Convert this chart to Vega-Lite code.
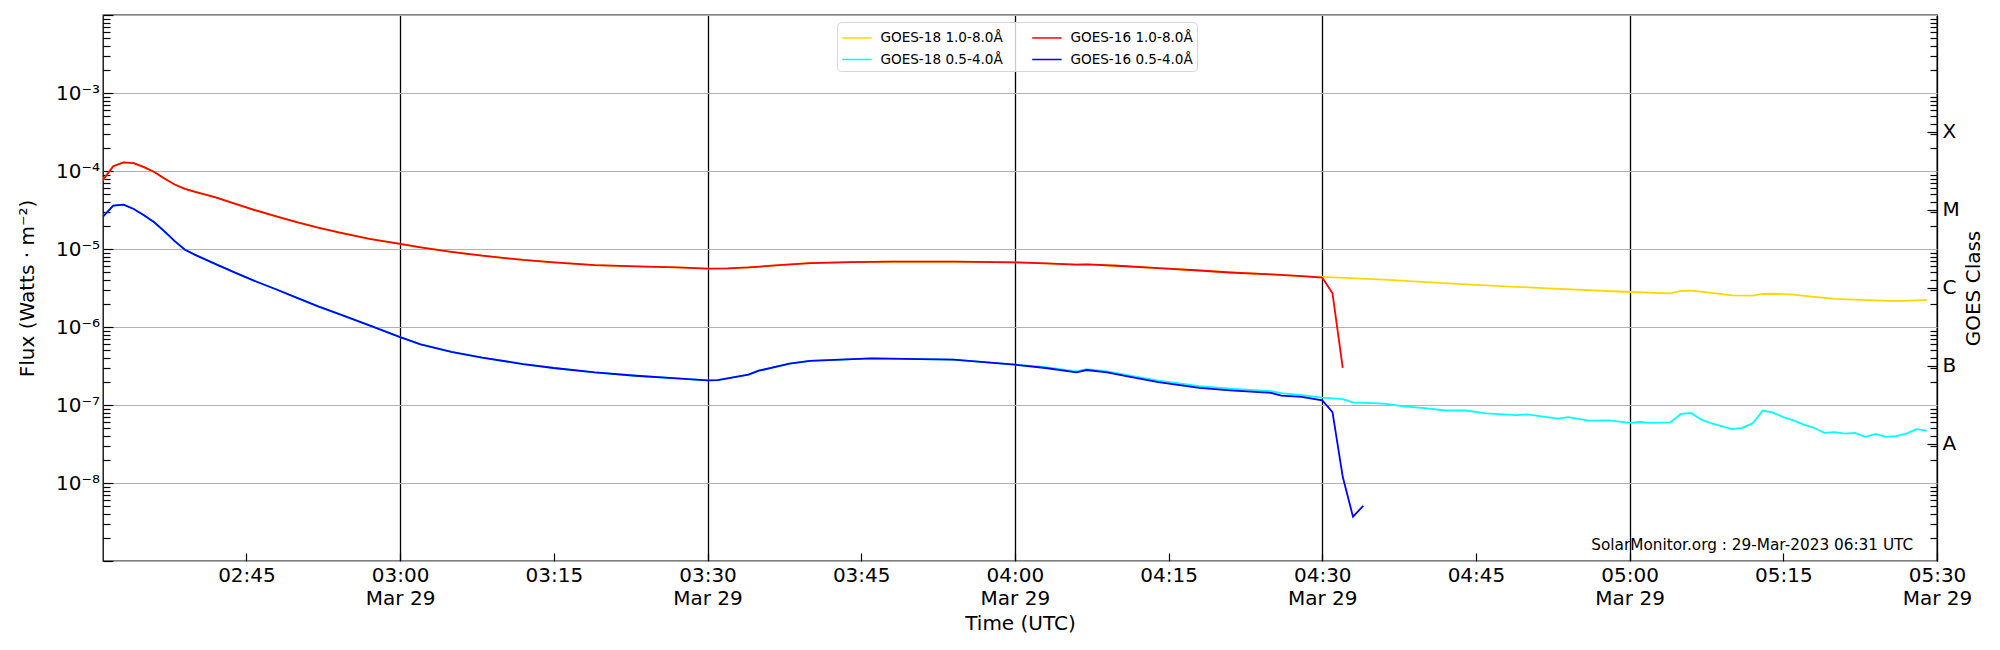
{
  "$schema": "https://vega.github.io/schema/vega-lite/v6.json",
  "width": 1834,
  "height": 546,
  "autosize": {"type": "none"},
  "padding": {"left": 103, "top": 15, "right": 63, "bottom": 89},
  "background": "white",
  "config": {
    "font": "DejaVu Sans",
    "view": {"stroke": "black", "strokeWidth": 1.3},
    "axis": {
      "labelFont": "DejaVu Sans",
      "titleFont": "DejaVu Sans",
      "labelFontSize": 20,
      "titleFontSize": 20,
      "titleFontWeight": "normal",
      "labelColor": "black",
      "titleColor": "black",
      "tickColor": "black",
      "tickWidth": 1.2,
      "domain": false,
      "labelOverlap": false,
      "labelFlush": false
    },
    "legend": {
      "orient": "none",
      "legendX": 734,
      "legendY": 7,
      "columns": 2,
      "symbolType": "M-1.4,0L1.4,0",
      "symbolSize": 441,
      "symbolStrokeWidth": 1.5,
      "symbolOffset": 4.4,
      "labelFont": "DejaVu Sans",
      "labelFontSize": 13.6,
      "labelColor": "black",
      "labelOffset": 12,
      "rowPadding": 3,
      "columnPadding": 26,
      "padding": 4,
      "strokeColor": "#d6d6d6",
      "fillColor": "rgba(255,255,255,0.8)",
      "cornerRadius": 4
    }
  },
  "datasets": {
    "flux": [
      {"t": "2023-03-29T02:31Z", "s": "GOES-18 1.0-8.0Å", "f": 7.7e-5},
      {"t": "2023-03-29T02:32Z", "s": "GOES-18 1.0-8.0Å", "f": 1.15e-4},
      {"t": "2023-03-29T02:33Z", "s": "GOES-18 1.0-8.0Å", "f": 1.29e-4},
      {"t": "2023-03-29T02:34Z", "s": "GOES-18 1.0-8.0Å", "f": 1.26e-4},
      {"t": "2023-03-29T02:35Z", "s": "GOES-18 1.0-8.0Å", "f": 1.12e-4},
      {"t": "2023-03-29T02:36Z", "s": "GOES-18 1.0-8.0Å", "f": 9.7e-5},
      {"t": "2023-03-29T02:37Z", "s": "GOES-18 1.0-8.0Å", "f": 8.0e-5},
      {"t": "2023-03-29T02:38Z", "s": "GOES-18 1.0-8.0Å", "f": 6.7e-5},
      {"t": "2023-03-29T02:39Z", "s": "GOES-18 1.0-8.0Å", "f": 5.9e-5},
      {"t": "2023-03-29T02:40Z", "s": "GOES-18 1.0-8.0Å", "f": 5.4e-5},
      {"t": "2023-03-29T02:42Z", "s": "GOES-18 1.0-8.0Å", "f": 4.6e-5},
      {"t": "2023-03-29T02:44Z", "s": "GOES-18 1.0-8.0Å", "f": 3.75e-5},
      {"t": "2023-03-29T02:46Z", "s": "GOES-18 1.0-8.0Å", "f": 3.1e-5},
      {"t": "2023-03-29T02:48Z", "s": "GOES-18 1.0-8.0Å", "f": 2.6e-5},
      {"t": "2023-03-29T02:50Z", "s": "GOES-18 1.0-8.0Å", "f": 2.2e-5},
      {"t": "2023-03-29T02:52Z", "s": "GOES-18 1.0-8.0Å", "f": 1.88e-5},
      {"t": "2023-03-29T02:54Z", "s": "GOES-18 1.0-8.0Å", "f": 1.63e-5},
      {"t": "2023-03-29T02:57Z", "s": "GOES-18 1.0-8.0Å", "f": 1.35e-5},
      {"t": "2023-03-29T03:00Z", "s": "GOES-18 1.0-8.0Å", "f": 1.16e-5},
      {"t": "2023-03-29T03:02Z", "s": "GOES-18 1.0-8.0Å", "f": 1.05e-5},
      {"t": "2023-03-29T03:05Z", "s": "GOES-18 1.0-8.0Å", "f": 9.2e-6},
      {"t": "2023-03-29T03:08Z", "s": "GOES-18 1.0-8.0Å", "f": 8.2e-6},
      {"t": "2023-03-29T03:12Z", "s": "GOES-18 1.0-8.0Å", "f": 7.25e-6},
      {"t": "2023-03-29T03:15Z", "s": "GOES-18 1.0-8.0Å", "f": 6.75e-6},
      {"t": "2023-03-29T03:19Z", "s": "GOES-18 1.0-8.0Å", "f": 6.2e-6},
      {"t": "2023-03-29T03:23Z", "s": "GOES-18 1.0-8.0Å", "f": 6.0e-6},
      {"t": "2023-03-29T03:27Z", "s": "GOES-18 1.0-8.0Å", "f": 5.8e-6},
      {"t": "2023-03-29T03:30Z", "s": "GOES-18 1.0-8.0Å", "f": 5.6e-6},
      {"t": "2023-03-29T03:32Z", "s": "GOES-18 1.0-8.0Å", "f": 5.65e-6},
      {"t": "2023-03-29T03:34Z", "s": "GOES-18 1.0-8.0Å", "f": 5.8e-6},
      {"t": "2023-03-29T03:37Z", "s": "GOES-18 1.0-8.0Å", "f": 6.2e-6},
      {"t": "2023-03-29T03:40Z", "s": "GOES-18 1.0-8.0Å", "f": 6.6e-6},
      {"t": "2023-03-29T03:44Z", "s": "GOES-18 1.0-8.0Å", "f": 6.8e-6},
      {"t": "2023-03-29T03:48Z", "s": "GOES-18 1.0-8.0Å", "f": 6.9e-6},
      {"t": "2023-03-29T03:54Z", "s": "GOES-18 1.0-8.0Å", "f": 6.9e-6},
      {"t": "2023-03-29T04:00Z", "s": "GOES-18 1.0-8.0Å", "f": 6.75e-6},
      {"t": "2023-03-29T04:03Z", "s": "GOES-18 1.0-8.0Å", "f": 6.55e-6},
      {"t": "2023-03-29T04:06Z", "s": "GOES-18 1.0-8.0Å", "f": 6.3e-6},
      {"t": "2023-03-29T04:07Z", "s": "GOES-18 1.0-8.0Å", "f": 6.36e-6},
      {"t": "2023-03-29T04:10Z", "s": "GOES-18 1.0-8.0Å", "f": 6.1e-6},
      {"t": "2023-03-29T04:14Z", "s": "GOES-18 1.0-8.0Å", "f": 5.7e-6},
      {"t": "2023-03-29T04:18Z", "s": "GOES-18 1.0-8.0Å", "f": 5.3e-6},
      {"t": "2023-03-29T04:21Z", "s": "GOES-18 1.0-8.0Å", "f": 5.0e-6},
      {"t": "2023-03-29T04:25Z", "s": "GOES-18 1.0-8.0Å", "f": 4.73e-6},
      {"t": "2023-03-29T04:28Z", "s": "GOES-18 1.0-8.0Å", "f": 4.5e-6},
      {"t": "2023-03-29T04:30Z", "s": "GOES-18 1.0-8.0Å", "f": 4.38e-6},
      {"t": "2023-03-29T04:36Z", "s": "GOES-18 1.0-8.0Å", "f": 4.05e-6},
      {"t": "2023-03-29T04:44Z", "s": "GOES-18 1.0-8.0Å", "f": 3.52e-6},
      {"t": "2023-03-29T04:52Z", "s": "GOES-18 1.0-8.0Å", "f": 3.13e-6},
      {"t": "2023-03-29T05:00Z", "s": "GOES-18 1.0-8.0Å", "f": 2.81e-6},
      {"t": "2023-03-29T05:04Z", "s": "GOES-18 1.0-8.0Å", "f": 2.7e-6},
      {"t": "2023-03-29T05:05Z", "s": "GOES-18 1.0-8.0Å", "f": 2.9e-6},
      {"t": "2023-03-29T05:06Z", "s": "GOES-18 1.0-8.0Å", "f": 2.92e-6},
      {"t": "2023-03-29T05:08Z", "s": "GOES-18 1.0-8.0Å", "f": 2.73e-6},
      {"t": "2023-03-29T05:10Z", "s": "GOES-18 1.0-8.0Å", "f": 2.55e-6},
      {"t": "2023-03-29T05:12Z", "s": "GOES-18 1.0-8.0Å", "f": 2.52e-6},
      {"t": "2023-03-29T05:13Z", "s": "GOES-18 1.0-8.0Å", "f": 2.65e-6},
      {"t": "2023-03-29T05:14Z", "s": "GOES-18 1.0-8.0Å", "f": 2.67e-6},
      {"t": "2023-03-29T05:16Z", "s": "GOES-18 1.0-8.0Å", "f": 2.6e-6},
      {"t": "2023-03-29T05:18Z", "s": "GOES-18 1.0-8.0Å", "f": 2.43e-6},
      {"t": "2023-03-29T05:20Z", "s": "GOES-18 1.0-8.0Å", "f": 2.29e-6},
      {"t": "2023-03-29T05:24Z", "s": "GOES-18 1.0-8.0Å", "f": 2.2e-6},
      {"t": "2023-03-29T05:26Z", "s": "GOES-18 1.0-8.0Å", "f": 2.15e-6},
      {"t": "2023-03-29T05:28Z", "s": "GOES-18 1.0-8.0Å", "f": 2.2e-6},
      {"t": "2023-03-29T05:29Z", "s": "GOES-18 1.0-8.0Å", "f": 2.22e-6},

      {"t": "2023-03-29T02:31Z", "s": "GOES-18 0.5-4.0Å", "f": 2.6e-5},
      {"t": "2023-03-29T02:32Z", "s": "GOES-18 0.5-4.0Å", "f": 3.6e-5},
      {"t": "2023-03-29T02:33Z", "s": "GOES-18 0.5-4.0Å", "f": 3.7e-5},
      {"t": "2023-03-29T02:34Z", "s": "GOES-18 0.5-4.0Å", "f": 3.26e-5},
      {"t": "2023-03-29T02:35Z", "s": "GOES-18 0.5-4.0Å", "f": 2.7e-5},
      {"t": "2023-03-29T02:36Z", "s": "GOES-18 0.5-4.0Å", "f": 2.2e-5},
      {"t": "2023-03-29T02:37Z", "s": "GOES-18 0.5-4.0Å", "f": 1.68e-5},
      {"t": "2023-03-29T02:38Z", "s": "GOES-18 0.5-4.0Å", "f": 1.26e-5},
      {"t": "2023-03-29T02:39Z", "s": "GOES-18 0.5-4.0Å", "f": 9.8e-6},
      {"t": "2023-03-29T02:40Z", "s": "GOES-18 0.5-4.0Å", "f": 8.4e-6},
      {"t": "2023-03-29T02:42Z", "s": "GOES-18 0.5-4.0Å", "f": 6.4e-6},
      {"t": "2023-03-29T02:44Z", "s": "GOES-18 0.5-4.0Å", "f": 4.9e-6},
      {"t": "2023-03-29T02:46Z", "s": "GOES-18 0.5-4.0Å", "f": 3.8e-6},
      {"t": "2023-03-29T02:48Z", "s": "GOES-18 0.5-4.0Å", "f": 3.0e-6},
      {"t": "2023-03-29T02:50Z", "s": "GOES-18 0.5-4.0Å", "f": 2.34e-6},
      {"t": "2023-03-29T02:52Z", "s": "GOES-18 0.5-4.0Å", "f": 1.84e-6},
      {"t": "2023-03-29T02:54Z", "s": "GOES-18 0.5-4.0Å", "f": 1.47e-6},
      {"t": "2023-03-29T02:57Z", "s": "GOES-18 0.5-4.0Å", "f": 1.05e-6},
      {"t": "2023-03-29T03:00Z", "s": "GOES-18 0.5-4.0Å", "f": 7.4e-7},
      {"t": "2023-03-29T03:02Z", "s": "GOES-18 0.5-4.0Å", "f": 6.0e-7},
      {"t": "2023-03-29T03:05Z", "s": "GOES-18 0.5-4.0Å", "f": 4.8e-7},
      {"t": "2023-03-29T03:08Z", "s": "GOES-18 0.5-4.0Å", "f": 4.05e-7},
      {"t": "2023-03-29T03:12Z", "s": "GOES-18 0.5-4.0Å", "f": 3.35e-7},
      {"t": "2023-03-29T03:15Z", "s": "GOES-18 0.5-4.0Å", "f": 2.98e-7},
      {"t": "2023-03-29T03:19Z", "s": "GOES-18 0.5-4.0Å", "f": 2.62e-7},
      {"t": "2023-03-29T03:23Z", "s": "GOES-18 0.5-4.0Å", "f": 2.37e-7},
      {"t": "2023-03-29T03:27Z", "s": "GOES-18 0.5-4.0Å", "f": 2.19e-7},
      {"t": "2023-03-29T03:30Z", "s": "GOES-18 0.5-4.0Å", "f": 2.07e-7},
      {"t": "2023-03-29T03:31Z", "s": "GOES-18 0.5-4.0Å", "f": 2.08e-7},
      {"t": "2023-03-29T03:34Z", "s": "GOES-18 0.5-4.0Å", "f": 2.45e-7},
      {"t": "2023-03-29T03:35Z", "s": "GOES-18 0.5-4.0Å", "f": 2.75e-7},
      {"t": "2023-03-29T03:38Z", "s": "GOES-18 0.5-4.0Å", "f": 3.4e-7},
      {"t": "2023-03-29T03:40Z", "s": "GOES-18 0.5-4.0Å", "f": 3.67e-7},
      {"t": "2023-03-29T03:46Z", "s": "GOES-18 0.5-4.0Å", "f": 3.96e-7},
      {"t": "2023-03-29T03:54Z", "s": "GOES-18 0.5-4.0Å", "f": 3.81e-7},
      {"t": "2023-03-29T04:00Z", "s": "GOES-18 0.5-4.0Å", "f": 3.29e-7},
      {"t": "2023-03-29T04:03Z", "s": "GOES-18 0.5-4.0Å", "f": 3.05e-7},
      {"t": "2023-03-29T04:06Z", "s": "GOES-18 0.5-4.0Å", "f": 2.7e-7},
      {"t": "2023-03-29T04:07Z", "s": "GOES-18 0.5-4.0Å", "f": 2.88e-7},
      {"t": "2023-03-29T04:09Z", "s": "GOES-18 0.5-4.0Å", "f": 2.7e-7},
      {"t": "2023-03-29T04:11Z", "s": "GOES-18 0.5-4.0Å", "f": 2.42e-7},
      {"t": "2023-03-29T04:14Z", "s": "GOES-18 0.5-4.0Å", "f": 2.05e-7},
      {"t": "2023-03-29T04:18Z", "s": "GOES-18 0.5-4.0Å", "f": 1.74e-7},
      {"t": "2023-03-29T04:21Z", "s": "GOES-18 0.5-4.0Å", "f": 1.62e-7},
      {"t": "2023-03-29T04:25Z", "s": "GOES-18 0.5-4.0Å", "f": 1.5e-7},
      {"t": "2023-03-29T04:26Z", "s": "GOES-18 0.5-4.0Å", "f": 1.42e-7},
      {"t": "2023-03-29T04:28Z", "s": "GOES-18 0.5-4.0Å", "f": 1.34e-7},
      {"t": "2023-03-29T04:30Z", "s": "GOES-18 0.5-4.0Å", "f": 1.24e-7},
      {"t": "2023-03-29T04:32Z", "s": "GOES-18 0.5-4.0Å", "f": 1.19e-7},
      {"t": "2023-03-29T04:33Z", "s": "GOES-18 0.5-4.0Å", "f": 1.08e-7},
      {"t": "2023-03-29T04:36Z", "s": "GOES-18 0.5-4.0Å", "f": 1.04e-7},
      {"t": "2023-03-29T04:38Z", "s": "GOES-18 0.5-4.0Å", "f": 9.6e-8},
      {"t": "2023-03-29T04:40Z", "s": "GOES-18 0.5-4.0Å", "f": 9.1e-8},
      {"t": "2023-03-29T04:42Z", "s": "GOES-18 0.5-4.0Å", "f": 8.5e-8},
      {"t": "2023-03-29T04:44Z", "s": "GOES-18 0.5-4.0Å", "f": 8.5e-8},
      {"t": "2023-03-29T04:46Z", "s": "GOES-18 0.5-4.0Å", "f": 7.8e-8},
      {"t": "2023-03-29T04:49Z", "s": "GOES-18 0.5-4.0Å", "f": 7.4e-8},
      {"t": "2023-03-29T04:50Z", "s": "GOES-18 0.5-4.0Å", "f": 7.6e-8},
      {"t": "2023-03-29T04:53Z", "s": "GOES-18 0.5-4.0Å", "f": 6.7e-8},
      {"t": "2023-03-29T04:54Z", "s": "GOES-18 0.5-4.0Å", "f": 7.0e-8},
      {"t": "2023-03-29T04:56Z", "s": "GOES-18 0.5-4.0Å", "f": 6.3e-8},
      {"t": "2023-03-29T04:58Z", "s": "GOES-18 0.5-4.0Å", "f": 6.35e-8},
      {"t": "2023-03-29T05:00Z", "s": "GOES-18 0.5-4.0Å", "f": 5.9e-8},
      {"t": "2023-03-29T05:01Z", "s": "GOES-18 0.5-4.0Å", "f": 6.05e-8},
      {"t": "2023-03-29T05:02Z", "s": "GOES-18 0.5-4.0Å", "f": 5.9e-8},
      {"t": "2023-03-29T05:04Z", "s": "GOES-18 0.5-4.0Å", "f": 6.0e-8},
      {"t": "2023-03-29T05:05Z", "s": "GOES-18 0.5-4.0Å", "f": 7.7e-8},
      {"t": "2023-03-29T05:06Z", "s": "GOES-18 0.5-4.0Å", "f": 7.9e-8},
      {"t": "2023-03-29T05:07Z", "s": "GOES-18 0.5-4.0Å", "f": 6.5e-8},
      {"t": "2023-03-29T05:08Z", "s": "GOES-18 0.5-4.0Å", "f": 5.8e-8},
      {"t": "2023-03-29T05:10Z", "s": "GOES-18 0.5-4.0Å", "f": 4.9e-8},
      {"t": "2023-03-29T05:11Z", "s": "GOES-18 0.5-4.0Å", "f": 5.1e-8},
      {"t": "2023-03-29T05:12Z", "s": "GOES-18 0.5-4.0Å", "f": 5.8e-8},
      {"t": "2023-03-29T05:13Z", "s": "GOES-18 0.5-4.0Å", "f": 8.5e-8},
      {"t": "2023-03-29T05:14Z", "s": "GOES-18 0.5-4.0Å", "f": 8.0e-8},
      {"t": "2023-03-29T05:15Z", "s": "GOES-18 0.5-4.0Å", "f": 7.0e-8},
      {"t": "2023-03-29T05:16Z", "s": "GOES-18 0.5-4.0Å", "f": 6.35e-8},
      {"t": "2023-03-29T05:17Z", "s": "GOES-18 0.5-4.0Å", "f": 5.6e-8},
      {"t": "2023-03-29T05:18Z", "s": "GOES-18 0.5-4.0Å", "f": 5.1e-8},
      {"t": "2023-03-29T05:19Z", "s": "GOES-18 0.5-4.0Å", "f": 4.4e-8},
      {"t": "2023-03-29T05:20Z", "s": "GOES-18 0.5-4.0Å", "f": 4.5e-8},
      {"t": "2023-03-29T05:21Z", "s": "GOES-18 0.5-4.0Å", "f": 4.3e-8},
      {"t": "2023-03-29T05:22Z", "s": "GOES-18 0.5-4.0Å", "f": 4.4e-8},
      {"t": "2023-03-29T05:23Z", "s": "GOES-18 0.5-4.0Å", "f": 3.9e-8},
      {"t": "2023-03-29T05:24Z", "s": "GOES-18 0.5-4.0Å", "f": 4.25e-8},
      {"t": "2023-03-29T05:25Z", "s": "GOES-18 0.5-4.0Å", "f": 3.9e-8},
      {"t": "2023-03-29T05:26Z", "s": "GOES-18 0.5-4.0Å", "f": 4.0e-8},
      {"t": "2023-03-29T05:27Z", "s": "GOES-18 0.5-4.0Å", "f": 4.3e-8},
      {"t": "2023-03-29T05:28Z", "s": "GOES-18 0.5-4.0Å", "f": 4.9e-8},
      {"t": "2023-03-29T05:29Z", "s": "GOES-18 0.5-4.0Å", "f": 4.7e-8},

      {"t": "2023-03-29T02:31Z", "s": "GOES-16 1.0-8.0Å", "f": 7.7e-5},
      {"t": "2023-03-29T02:32Z", "s": "GOES-16 1.0-8.0Å", "f": 1.15e-4},
      {"t": "2023-03-29T02:33Z", "s": "GOES-16 1.0-8.0Å", "f": 1.29e-4},
      {"t": "2023-03-29T02:34Z", "s": "GOES-16 1.0-8.0Å", "f": 1.26e-4},
      {"t": "2023-03-29T02:35Z", "s": "GOES-16 1.0-8.0Å", "f": 1.12e-4},
      {"t": "2023-03-29T02:36Z", "s": "GOES-16 1.0-8.0Å", "f": 9.7e-5},
      {"t": "2023-03-29T02:37Z", "s": "GOES-16 1.0-8.0Å", "f": 8.0e-5},
      {"t": "2023-03-29T02:38Z", "s": "GOES-16 1.0-8.0Å", "f": 6.7e-5},
      {"t": "2023-03-29T02:39Z", "s": "GOES-16 1.0-8.0Å", "f": 5.9e-5},
      {"t": "2023-03-29T02:40Z", "s": "GOES-16 1.0-8.0Å", "f": 5.4e-5},
      {"t": "2023-03-29T02:42Z", "s": "GOES-16 1.0-8.0Å", "f": 4.6e-5},
      {"t": "2023-03-29T02:44Z", "s": "GOES-16 1.0-8.0Å", "f": 3.75e-5},
      {"t": "2023-03-29T02:46Z", "s": "GOES-16 1.0-8.0Å", "f": 3.1e-5},
      {"t": "2023-03-29T02:48Z", "s": "GOES-16 1.0-8.0Å", "f": 2.6e-5},
      {"t": "2023-03-29T02:50Z", "s": "GOES-16 1.0-8.0Å", "f": 2.2e-5},
      {"t": "2023-03-29T02:52Z", "s": "GOES-16 1.0-8.0Å", "f": 1.88e-5},
      {"t": "2023-03-29T02:54Z", "s": "GOES-16 1.0-8.0Å", "f": 1.63e-5},
      {"t": "2023-03-29T02:57Z", "s": "GOES-16 1.0-8.0Å", "f": 1.35e-5},
      {"t": "2023-03-29T03:00Z", "s": "GOES-16 1.0-8.0Å", "f": 1.16e-5},
      {"t": "2023-03-29T03:02Z", "s": "GOES-16 1.0-8.0Å", "f": 1.05e-5},
      {"t": "2023-03-29T03:05Z", "s": "GOES-16 1.0-8.0Å", "f": 9.2e-6},
      {"t": "2023-03-29T03:08Z", "s": "GOES-16 1.0-8.0Å", "f": 8.2e-6},
      {"t": "2023-03-29T03:12Z", "s": "GOES-16 1.0-8.0Å", "f": 7.25e-6},
      {"t": "2023-03-29T03:15Z", "s": "GOES-16 1.0-8.0Å", "f": 6.75e-6},
      {"t": "2023-03-29T03:19Z", "s": "GOES-16 1.0-8.0Å", "f": 6.2e-6},
      {"t": "2023-03-29T03:23Z", "s": "GOES-16 1.0-8.0Å", "f": 6.0e-6},
      {"t": "2023-03-29T03:27Z", "s": "GOES-16 1.0-8.0Å", "f": 5.8e-6},
      {"t": "2023-03-29T03:30Z", "s": "GOES-16 1.0-8.0Å", "f": 5.6e-6},
      {"t": "2023-03-29T03:32Z", "s": "GOES-16 1.0-8.0Å", "f": 5.65e-6},
      {"t": "2023-03-29T03:34Z", "s": "GOES-16 1.0-8.0Å", "f": 5.8e-6},
      {"t": "2023-03-29T03:37Z", "s": "GOES-16 1.0-8.0Å", "f": 6.2e-6},
      {"t": "2023-03-29T03:40Z", "s": "GOES-16 1.0-8.0Å", "f": 6.6e-6},
      {"t": "2023-03-29T03:44Z", "s": "GOES-16 1.0-8.0Å", "f": 6.8e-6},
      {"t": "2023-03-29T03:48Z", "s": "GOES-16 1.0-8.0Å", "f": 6.9e-6},
      {"t": "2023-03-29T03:54Z", "s": "GOES-16 1.0-8.0Å", "f": 6.9e-6},
      {"t": "2023-03-29T04:00Z", "s": "GOES-16 1.0-8.0Å", "f": 6.75e-6},
      {"t": "2023-03-29T04:03Z", "s": "GOES-16 1.0-8.0Å", "f": 6.55e-6},
      {"t": "2023-03-29T04:06Z", "s": "GOES-16 1.0-8.0Å", "f": 6.3e-6},
      {"t": "2023-03-29T04:07Z", "s": "GOES-16 1.0-8.0Å", "f": 6.36e-6},
      {"t": "2023-03-29T04:10Z", "s": "GOES-16 1.0-8.0Å", "f": 6.1e-6},
      {"t": "2023-03-29T04:14Z", "s": "GOES-16 1.0-8.0Å", "f": 5.7e-6},
      {"t": "2023-03-29T04:18Z", "s": "GOES-16 1.0-8.0Å", "f": 5.3e-6},
      {"t": "2023-03-29T04:21Z", "s": "GOES-16 1.0-8.0Å", "f": 5.0e-6},
      {"t": "2023-03-29T04:25Z", "s": "GOES-16 1.0-8.0Å", "f": 4.73e-6},
      {"t": "2023-03-29T04:28Z", "s": "GOES-16 1.0-8.0Å", "f": 4.5e-6},
      {"t": "2023-03-29T04:30Z", "s": "GOES-16 1.0-8.0Å", "f": 4.3e-6},
      {"t": "2023-03-29T04:31Z", "s": "GOES-16 1.0-8.0Å", "f": 2.7e-6},
      {"t": "2023-03-29T04:32Z", "s": "GOES-16 1.0-8.0Å", "f": 3.0e-7},

      {"t": "2023-03-29T02:31Z", "s": "GOES-16 0.5-4.0Å", "f": 2.6e-5},
      {"t": "2023-03-29T02:32Z", "s": "GOES-16 0.5-4.0Å", "f": 3.6e-5},
      {"t": "2023-03-29T02:33Z", "s": "GOES-16 0.5-4.0Å", "f": 3.7e-5},
      {"t": "2023-03-29T02:34Z", "s": "GOES-16 0.5-4.0Å", "f": 3.26e-5},
      {"t": "2023-03-29T02:35Z", "s": "GOES-16 0.5-4.0Å", "f": 2.7e-5},
      {"t": "2023-03-29T02:36Z", "s": "GOES-16 0.5-4.0Å", "f": 2.2e-5},
      {"t": "2023-03-29T02:37Z", "s": "GOES-16 0.5-4.0Å", "f": 1.68e-5},
      {"t": "2023-03-29T02:38Z", "s": "GOES-16 0.5-4.0Å", "f": 1.26e-5},
      {"t": "2023-03-29T02:39Z", "s": "GOES-16 0.5-4.0Å", "f": 9.8e-6},
      {"t": "2023-03-29T02:40Z", "s": "GOES-16 0.5-4.0Å", "f": 8.4e-6},
      {"t": "2023-03-29T02:42Z", "s": "GOES-16 0.5-4.0Å", "f": 6.4e-6},
      {"t": "2023-03-29T02:44Z", "s": "GOES-16 0.5-4.0Å", "f": 4.9e-6},
      {"t": "2023-03-29T02:46Z", "s": "GOES-16 0.5-4.0Å", "f": 3.8e-6},
      {"t": "2023-03-29T02:48Z", "s": "GOES-16 0.5-4.0Å", "f": 3.0e-6},
      {"t": "2023-03-29T02:50Z", "s": "GOES-16 0.5-4.0Å", "f": 2.34e-6},
      {"t": "2023-03-29T02:52Z", "s": "GOES-16 0.5-4.0Å", "f": 1.84e-6},
      {"t": "2023-03-29T02:54Z", "s": "GOES-16 0.5-4.0Å", "f": 1.47e-6},
      {"t": "2023-03-29T02:57Z", "s": "GOES-16 0.5-4.0Å", "f": 1.05e-6},
      {"t": "2023-03-29T03:00Z", "s": "GOES-16 0.5-4.0Å", "f": 7.4e-7},
      {"t": "2023-03-29T03:02Z", "s": "GOES-16 0.5-4.0Å", "f": 6.0e-7},
      {"t": "2023-03-29T03:05Z", "s": "GOES-16 0.5-4.0Å", "f": 4.8e-7},
      {"t": "2023-03-29T03:08Z", "s": "GOES-16 0.5-4.0Å", "f": 4.05e-7},
      {"t": "2023-03-29T03:12Z", "s": "GOES-16 0.5-4.0Å", "f": 3.35e-7},
      {"t": "2023-03-29T03:15Z", "s": "GOES-16 0.5-4.0Å", "f": 2.98e-7},
      {"t": "2023-03-29T03:19Z", "s": "GOES-16 0.5-4.0Å", "f": 2.62e-7},
      {"t": "2023-03-29T03:23Z", "s": "GOES-16 0.5-4.0Å", "f": 2.37e-7},
      {"t": "2023-03-29T03:27Z", "s": "GOES-16 0.5-4.0Å", "f": 2.19e-7},
      {"t": "2023-03-29T03:30Z", "s": "GOES-16 0.5-4.0Å", "f": 2.07e-7},
      {"t": "2023-03-29T03:31Z", "s": "GOES-16 0.5-4.0Å", "f": 2.08e-7},
      {"t": "2023-03-29T03:34Z", "s": "GOES-16 0.5-4.0Å", "f": 2.45e-7},
      {"t": "2023-03-29T03:35Z", "s": "GOES-16 0.5-4.0Å", "f": 2.75e-7},
      {"t": "2023-03-29T03:38Z", "s": "GOES-16 0.5-4.0Å", "f": 3.4e-7},
      {"t": "2023-03-29T03:40Z", "s": "GOES-16 0.5-4.0Å", "f": 3.67e-7},
      {"t": "2023-03-29T03:46Z", "s": "GOES-16 0.5-4.0Å", "f": 3.96e-7},
      {"t": "2023-03-29T03:54Z", "s": "GOES-16 0.5-4.0Å", "f": 3.81e-7},
      {"t": "2023-03-29T04:00Z", "s": "GOES-16 0.5-4.0Å", "f": 3.29e-7},
      {"t": "2023-03-29T04:03Z", "s": "GOES-16 0.5-4.0Å", "f": 2.98e-7},
      {"t": "2023-03-29T04:06Z", "s": "GOES-16 0.5-4.0Å", "f": 2.62e-7},
      {"t": "2023-03-29T04:07Z", "s": "GOES-16 0.5-4.0Å", "f": 2.81e-7},
      {"t": "2023-03-29T04:09Z", "s": "GOES-16 0.5-4.0Å", "f": 2.62e-7},
      {"t": "2023-03-29T04:11Z", "s": "GOES-16 0.5-4.0Å", "f": 2.33e-7},
      {"t": "2023-03-29T04:14Z", "s": "GOES-16 0.5-4.0Å", "f": 1.97e-7},
      {"t": "2023-03-29T04:18Z", "s": "GOES-16 0.5-4.0Å", "f": 1.66e-7},
      {"t": "2023-03-29T04:21Z", "s": "GOES-16 0.5-4.0Å", "f": 1.54e-7},
      {"t": "2023-03-29T04:25Z", "s": "GOES-16 0.5-4.0Å", "f": 1.43e-7},
      {"t": "2023-03-29T04:26Z", "s": "GOES-16 0.5-4.0Å", "f": 1.32e-7},
      {"t": "2023-03-29T04:28Z", "s": "GOES-16 0.5-4.0Å", "f": 1.27e-7},
      {"t": "2023-03-29T04:30Z", "s": "GOES-16 0.5-4.0Å", "f": 1.15e-7},
      {"t": "2023-03-29T04:31Z", "s": "GOES-16 0.5-4.0Å", "f": 8.1e-8},
      {"t": "2023-03-29T04:32Z", "s": "GOES-16 0.5-4.0Å", "f": 1.2e-8},
      {"t": "2023-03-29T04:33Z", "s": "GOES-16 0.5-4.0Å", "f": 3.7e-9},
      {"t": "2023-03-29T04:34Z", "s": "GOES-16 0.5-4.0Å", "f": 5.1e-9}
    ],
    "note": [
      {"t": "2023-03-29T05:27:41Z", "f": 1.4e-9, "txt": "SolarMonitor.org : 29-Mar-2023 06:31 UTC"}
    ]
  },
  "layer": [
    {
      "data": {"name": "flux"},
      "transform": [{"filter": "indexof(datum.s, 'GOES-18') === 0"}],
      "mark": {"type": "line", "strokeWidth": 1.8},
      "encoding": {
        "x": {
          "field": "t",
          "type": "temporal",
          "scale": {"type": "utc", "domain": [1680057060000, 1680067800000]},
          "axis": {
            "title": "Time (UTC)",
            "values": [
              {"year": 2023, "month": 3, "date": 29, "hours": 2, "minutes": 45, "utc": true},
              {"year": 2023, "month": 3, "date": 29, "hours": 3, "minutes": 0, "utc": true},
              {"year": 2023, "month": 3, "date": 29, "hours": 3, "minutes": 15, "utc": true},
              {"year": 2023, "month": 3, "date": 29, "hours": 3, "minutes": 30, "utc": true},
              {"year": 2023, "month": 3, "date": 29, "hours": 3, "minutes": 45, "utc": true},
              {"year": 2023, "month": 3, "date": 29, "hours": 4, "minutes": 0, "utc": true},
              {"year": 2023, "month": 3, "date": 29, "hours": 4, "minutes": 15, "utc": true},
              {"year": 2023, "month": 3, "date": 29, "hours": 4, "minutes": 30, "utc": true},
              {"year": 2023, "month": 3, "date": 29, "hours": 4, "minutes": 45, "utc": true},
              {"year": 2023, "month": 3, "date": 29, "hours": 5, "minutes": 0, "utc": true},
              {"year": 2023, "month": 3, "date": 29, "hours": 5, "minutes": 15, "utc": true},
              {"year": 2023, "month": 3, "date": 29, "hours": 5, "minutes": 30, "utc": true}
            ],
            "labelExpr": "utcminutes(datum.value) % 30 === 0 ? [utcFormat(datum.value, '%H:%M'), utcFormat(datum.value, '%b %d')] : utcFormat(datum.value, '%H:%M')",
            "labelLineHeight": 23,
            "tickSize": -8,
            "labelPadding": 12,
            "titlePadding": 5.5,
            "grid": true,
            "gridWidth": 1.3,
            "gridColor": {"condition": {"test": "utcminutes(datum.value) % 30 === 0", "value": "black"}, "value": "rgba(0,0,0,0)"}
          }
        },
        "y": {
          "field": "f",
          "type": "quantitative",
          "scale": {"type": "log", "domain": [1e-9, 1e-2]},
          "axis": {
            "title": "Flux (Watts · m⁻²)",
            "values": [1e-9, 2e-9, 3e-9, 4e-9, 5e-9, 6e-9, 7e-9, 8e-9, 9e-9, 1e-8, 2e-8, 3e-8, 4e-8, 5e-8, 6e-8, 7e-8, 8e-8, 9e-8, 1e-7, 2e-7, 3e-7, 4e-7, 5e-7, 6e-7, 7e-7, 8e-7, 9e-7, 1e-6, 2e-6, 3e-6, 4e-6, 5e-6, 6e-6, 7e-6, 8e-6, 9e-6, 1e-5, 2e-5, 3e-5, 4e-5, 5e-5, 6e-5, 7e-5, 8e-5, 9e-5, 1e-4, 2e-4, 3e-4, 4e-4, 5e-4, 6e-4, 7e-4, 8e-4, 9e-4, 1e-3, 2e-3, 3e-3, 4e-3, 5e-3, 6e-3, 7e-3, 8e-3, 9e-3, 1e-2],
            "labelExpr": "abs(log(datum.value)/LN10 - round(log(datum.value)/LN10)) < 0.01 && datum.value > 5e-9 && datum.value < 5e-3 ? '10' + ['⁻⁸','⁻⁷','⁻⁶','⁻⁵','⁻⁴','⁻³'][round(log(datum.value)/LN10) + 8] : ''",
            "tickSize": {"condition": {"test": "abs(log(datum.value)/LN10 - round(log(datum.value)/LN10)) < 0.01", "value": -10}, "value": -7},
            "labelPadding": 13.5,
            "titlePadding": 18,
            "grid": true,
            "gridWidth": 1,
            "gridColor": {"condition": {"test": "abs(log(datum.value)/LN10 - round(log(datum.value)/LN10)) < 0.01", "value": "#b0b0b0"}, "value": "rgba(0,0,0,0)"}
          }
        },
        "color": {
          "field": "s",
          "type": "nominal",
          "scale": {
            "domain": ["GOES-18 1.0-8.0Å", "GOES-18 0.5-4.0Å", "GOES-16 1.0-8.0Å", "GOES-16 0.5-4.0Å"],
            "range": ["#ffd700", "#00ffff", "#ff0000", "#0000ff"]
          },
          "legend": {"title": null}
        }
      }
    },
    {
      "data": {"name": "flux"},
      "transform": [{"filter": "indexof(datum.s, 'GOES-16') === 0"}],
      "mark": {"type": "line", "strokeWidth": 1.8},
      "encoding": {
        "x": {
          "field": "t",
          "type": "temporal",
          "scale": {"type": "utc", "domain": [1680057060000, 1680067800000]}
        },
        "y": {
          "field": "f",
          "type": "quantitative",
          "scale": {"type": "log", "domain": [1e-9, 1e-2]},
          "axis": null
        },
        "color": {"field": "s", "type": "nominal"}
      }
    },
    {
      "data": {"name": "note"},
      "mark": {"type": "text", "align": "right", "baseline": "alphabetic", "fontSize": 15.3, "font": "DejaVu Sans", "color": "black"},
      "encoding": {
        "x": {
          "field": "t",
          "type": "temporal",
          "scale": {"type": "utc", "domain": [1680057060000, 1680067800000]}
        },
        "y": {
          "field": "f",
          "type": "quantitative",
          "scale": {"type": "log", "domain": [1e-9, 1e-2]},
          "axis": {
            "orient": "right",
            "title": "GOES Class",
            "titleAngle": 270,
            "titleBaseline": "top",
            "titlePadding": 4,
            "values": [2e-9, 3e-9, 4e-9, 5e-9, 6e-9, 7e-9, 8e-9, 9e-9, 2e-8, 3e-8, 3.1623e-8, 4e-8, 5e-8, 6e-8, 7e-8, 8e-8, 9e-8, 2e-7, 3e-7, 3.1623e-7, 4e-7, 5e-7, 6e-7, 7e-7, 8e-7, 9e-7, 2e-6, 3e-6, 3.1623e-6, 4e-6, 5e-6, 6e-6, 7e-6, 8e-6, 9e-6, 2e-5, 3e-5, 3.1623e-5, 4e-5, 5e-5, 6e-5, 7e-5, 8e-5, 9e-5, 2e-4, 3e-4, 3.1623e-4, 4e-4, 5e-4, 6e-4, 7e-4, 8e-4, 9e-4, 2e-3, 3e-3, 4e-3, 5e-3, 6e-3, 7e-3, 8e-3, 9e-3],
            "labelExpr": "abs(log(datum.value)/LN10 - floor(log(datum.value)/LN10) - 0.5) < 0.01 ? ['A','B','C','M','X'][floor(log(datum.value)/LN10) + 8] : ''",
            "tickSize": {"condition": {"test": "abs(log(datum.value)/LN10 - floor(log(datum.value)/LN10) - 0.5) < 0.01", "value": -10}, "value": -7},
            "labelPadding": 15,
            "grid": false
          }
        },
        "text": {"field": "txt"}
      }
    }
  ],
  "resolve": {"scale": {"y": "independent"}}
}
